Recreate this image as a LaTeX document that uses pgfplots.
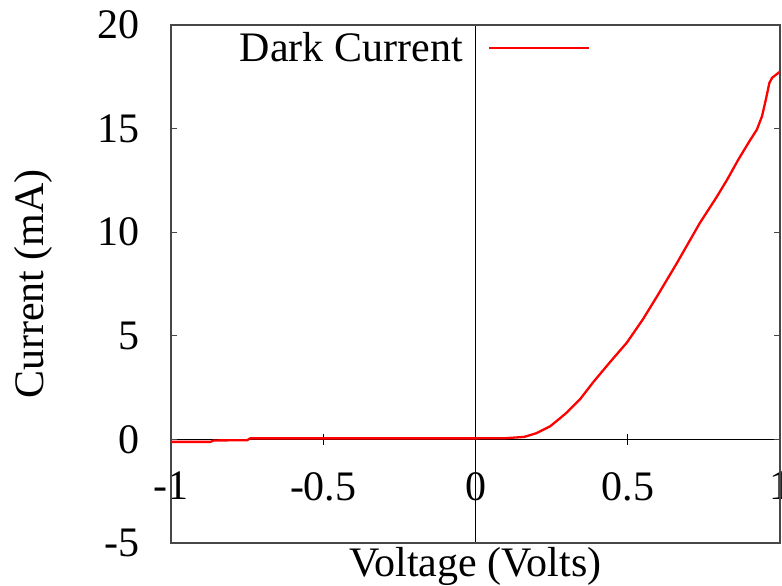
\documentclass[border=0pt]{standalone}
\usepackage{pgfplots}
\pgfplotsset{compat=1.18}
\usepackage{fontspec}
\setmainfont{Liberation Serif}

% dark I-V sweep of the diode
\pgfplotstableread{
V      I
-1.000 -0.12
-0.870 -0.12
-0.860 -0.05
-0.750 -0.04
-0.740  0.05
-0.500  0.05
 0.000  0.05
 0.100  0.06
 0.160  0.12
 0.200  0.30
 0.245  0.63
 0.280  1.05
 0.300  1.30
 0.343  1.93
 0.386  2.75
 0.440  3.70
 0.497  4.67
 0.550  5.80
 0.596  6.90
 0.661  8.50
 0.737 10.45
 0.792 11.70
 0.825 12.50
 0.863 13.50
 0.900 14.40
 0.924 14.95
 0.941 15.60
 0.955 16.50
 0.965 17.20
 0.974 17.45
 1.000 17.75
}\darkcurrent

\begin{document}
\begin{tikzpicture}
\pgfplotsset{
  every axis/.append style={
    width=609bp, height=518bp, scale only axis,
    xmin=-1, xmax=1, ymin=-5, ymax=20,
    font=\fontsize{42bp}{50bp}\selectfont,
    /pgf/number format/assume math mode=true,
  }
}
% zero lines, with the voltage ticks along I = 0
\begin{axis}[at={(0bp,0bp)}, anchor=south west,
  axis lines=middle,
  axis line style={-, black, line width=0.9bp},
  xtick={-1,-0.5,0,0.5,1}, ytick=\empty,
  hide obscured x ticks=false,
  xticklabel style={anchor=north, inner sep=0pt, yshift=-27bp},
  major tick length=11bp, tick align=center,
  tick style={black, line width=0.9bp},
]
\end{axis}
% frame, current ticks and the measured curve
\begin{axis}[at={(0bp,0bp)}, anchor=south west,
  axis line style={line width=1.4bp, black!72},
  xtick=\empty,
  ytick={-5,0,5,10,15,20},
  ytick pos=both, yticklabel pos=left,
  tick align=inside, major tick length=6bp,
  tick style={black!72, line width=1.2bp},
  yticklabel style={anchor=east, inner sep=0pt, xshift=-31bp},
  xlabel={Voltage (Volts)},
  ylabel={Current (mA)},
  xlabel style={at={(axis description cs:0.5,0)}, anchor=north, inner sep=0pt, yshift=-4bp},
  ylabel style={at={(axis description cs:-0.2266,0.5)}, anchor=center, inner sep=0pt},
  legend plot pos=right,
  legend style={at={(axis description cs:0.688,0.9556)}, anchor=east,
    draw=none, fill=none, inner sep=0pt, outer sep=0pt,
    nodes={inner sep=0pt}},
  legend image code/.code={\path (0bp,0bp); \draw[#1] (25bp,0bp) -- (125bp,0bp);},
]
\addplot[red, line width=2.3bp] table[x=V, y=I] {\darkcurrent};
\addlegendentry{Dark Current}
\end{axis}
\pgfresetboundingbox
\useasboundingbox (-171bp,-43bp) rectangle (611bp,543bp);
\end{tikzpicture}
\end{document}
